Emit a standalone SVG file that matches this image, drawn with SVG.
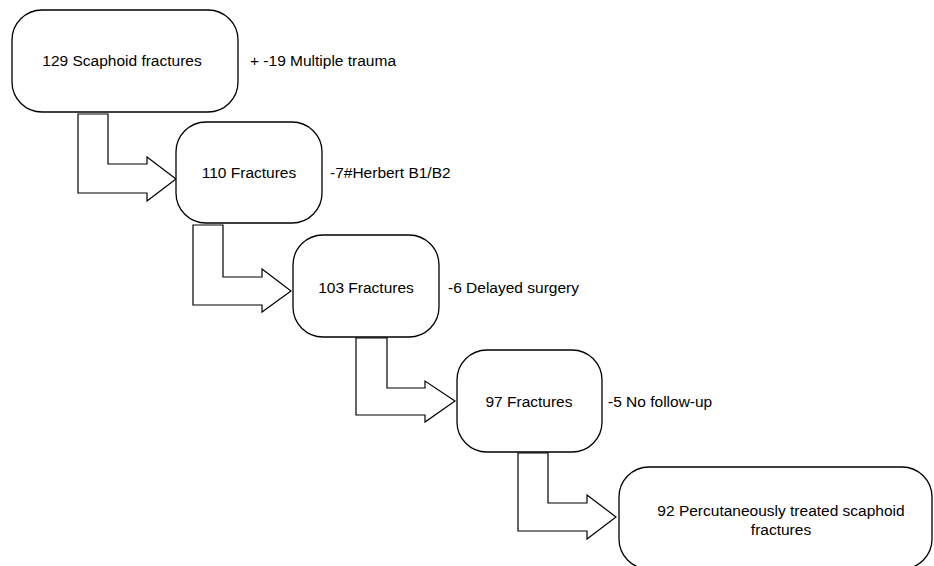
<svg xmlns="http://www.w3.org/2000/svg" width="934" height="566" viewBox="0 0 934 566">
<style>
.box{fill:#fff;stroke:#000;stroke-width:1.3}
.arr{fill:#fff;stroke:#000;stroke-width:1.2;stroke-linejoin:miter}
text{font-family:"Liberation Sans",Arial,Helvetica,sans-serif;font-size:15.5px;fill:#000}
.c{text-anchor:middle}
</style>
<rect width="934" height="566" fill="#fff"/>
<g id="connectors">
<polygon class="arr" points="78,114 108,114 108,164 147,164 147,157 176,179 147,201 147,193 78,193"/>
<polygon class="arr" points="193,225 223,225 223,277 262,277 262,269 291,291 262,312 262,305 193,305"/>
<polygon class="arr" points="356,338 387,338 387,388 425,388 425,381 455,401 425,422 425,415 356,415"/>
<polygon class="arr" points="518,453 548,453 548,503 587,503 587,495 616,517 587,539 587,531 518,531"/>
</g>
<g id="n1">
<rect class="box" x="12" y="10" width="226" height="102" rx="30" ry="30"/>
<text class="c" x="122" y="66">129 Scaphoid fractures</text>
</g>
<g id="l1"><text x="250" y="66">+ -19 Multiple trauma</text></g>
<g id="n2">
<rect class="box" x="176" y="122" width="146" height="101" rx="30" ry="30"/>
<text class="c" x="249" y="178">110 Fractures</text>
</g>
<g id="l2"><text x="330" y="178">-7#Herbert B1/B2</text></g>
<g id="n3">
<rect class="box" x="293" y="235" width="146" height="102" rx="30" ry="30"/>
<text class="c" x="366" y="293">103 Fractures</text>
</g>
<g id="l3"><text x="448" y="293">-6 Delayed surgery</text></g>
<g id="n4">
<rect class="box" x="457" y="350" width="145" height="102" rx="30" ry="30"/>
<text class="c" x="529" y="407">97 Fractures</text>
</g>
<g id="l4"><text x="608" y="407">-5 No follow-up</text></g>
<g id="n5">
<rect class="box" x="619" y="467" width="313" height="102" rx="30" ry="30"/>
<text class="c" x="781" y="516">92 Percutaneously treated scaphoid</text>
<text class="c" x="781" y="535">fractures</text>
</g>
</svg>
